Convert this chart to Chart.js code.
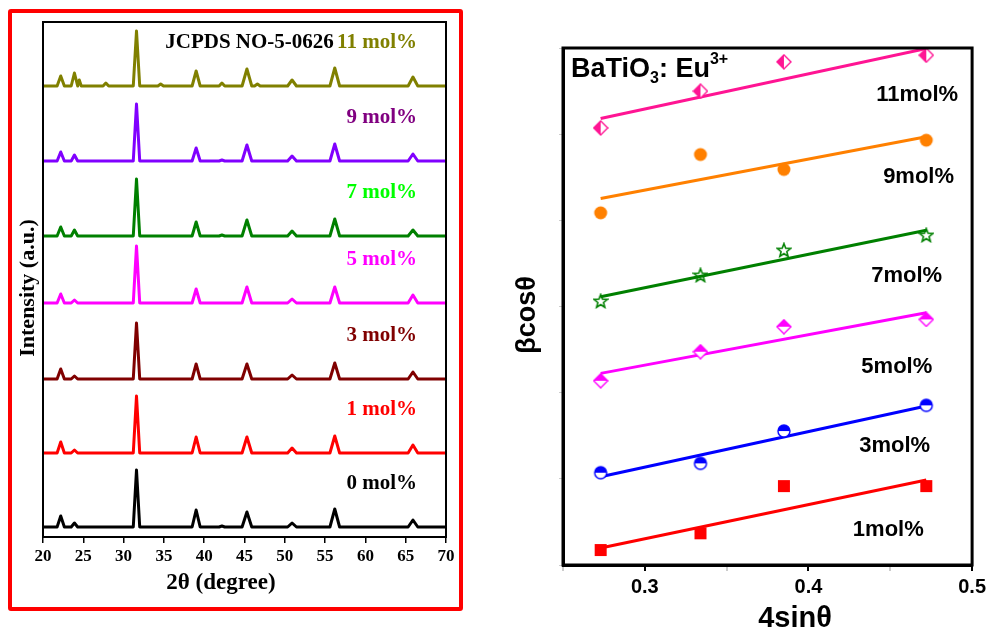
<!DOCTYPE html>
<html>
<head>
<meta charset="utf-8">
<script src="https://cdn.jsdelivr.net/npm/chart.js@4.4.1/dist/chart.umd.min.js"></script>
<style>
    body { margin: 0; background: #fff; }
    #wrap { position: relative; width: 990px; height: 634px; overflow: hidden; }
    #xrd { position: absolute; left: 0; top: 0; }
    #wh { position: absolute; left: 480px; top: 0; }
    #redbox { position: absolute; left: 8px; top: 9px; width: 447px; height: 594px;
              border: 4px solid #ff0000; border-radius: 3px; pointer-events: none; }
</style>
</head>
<body>
<div id="wrap">
    <canvas id="xrd" width="470" height="634"></canvas>
    <canvas id="wh" width="510" height="634"></canvas>
    <div id="redbox"></div>
</div>
<script>
// ---- XRD patterns (left panel) ----
const sampleNames = ['0 mol%', '1 mol%', '3 mol%', '5 mol%', '7 mol%', '9 mol%', '11 mol%'];
const stackOffsets = [10, 84, 158, 234, 301, 376, 451];   // vertical stacking, a.u.
const peakPos   = [22.2, 23.9, 24.5, 27.8, 31.6, 34.6, 39.0, 42.2, 45.3, 46.6, 50.9, 56.2, 65.9];
const peakHalfW = [0.45, 0.4, 0.25, 0.35, 0.4, 0.35, 0.5, 0.35, 0.6, 0.35, 0.55, 0.6, 0.6];
const h0  = [11, 4, 0, 0, 57, 0, 17, 1, 15, 0, 4, 18, 7];
const h1  = [11, 3, 0, 0, 57, 0, 16, 0, 16, 0, 5, 17, 8];
const h3  = [10, 3, 0, 0, 56, 0, 15, 0, 15, 0, 4, 16, 7];
const h5  = [9, 3, 0, 0, 57, 0, 14, 0, 16, 0, 4, 16, 8];
const h7  = [9, 6, 0, 0, 57, 0, 14, 1, 16, 0, 5, 17, 6];
const h9  = [9, 6, 0, 0, 57, 0, 13, 1, 16, 0, 5, 17, 7];
const h11 = [10, 13, 6, 3, 55, 2, 15, 3, 17, 2, 6, 18, 9];
const peakHeights = [h0, h1, h3, h5, h7, h9, h11];
const xrdLineColors  = ['#000000', '#ff0000', '#800000', '#ff00ff', '#008000', '#8000ff', '#808000'];
const xrdLabelColors = ['#000000', '#ff0000', '#800000', '#ff00ff', '#00ff00', '#800080', '#808000'];

// ---- Williamson-Hall plot (right panel) ----
const whNames = ['1mol%', '3mol%', '5mol%', '7mol%', '9mol%', '11mol%'];
const sinX = [0.273, 0.334, 0.385, 0.472];
const wh1  = [0.174, 0.368, 0.916, 0.916];
const wh3  = [1.071, 1.180, 1.555, 1.853];
const wh5  = [2.138, 2.475, 2.765, 2.850];
const wh7  = [3.063, 3.364, 3.654, 3.828];
const wh9  = [4.087, 4.764, 4.590, 4.930];
const wh11 = [5.073, 5.499, 5.839, 5.916];
const fitX  = [0.273, 0.472];
const fit1  = [0.197, 0.986];
const fit3  = [1.025, 1.845];
const fit5  = [2.224, 2.927];
const fit7  = [3.113, 3.886];
const fit9  = [4.254, 4.969];
const fit11 = [5.182, 5.994];
const whValues = [wh1, wh3, wh5, wh7, wh9, wh11];
const whFits = [fit1, fit3, fit5, fit7, fit9, fit11];
const whColors = ['#ff0000', '#0000ff', '#ff00ff', '#008000', '#ff8000', '#ff1493'];
const whMarkers = ['square', 'halfCircleTop', 'diamondTop', 'star', 'circle', 'diamondLeft'];

// baseline -> peak -> baseline for every reflection in the pattern
function buildPattern(idx) {
    var off = stackOffsets[idx], hs = peakHeights[idx];
    var pts = [{ x: 20, y: off }];
    for (var i = 0; i < peakPos.length; i++) {
        if (!hs[i]) continue;
        pts.push({ x: peakPos[i] - peakHalfW[i], y: off });
        pts.push({ x: peakPos[i], y: off + hs[i] });
        pts.push({ x: peakPos[i] + peakHalfW[i], y: off });
    }
    pts.push({ x: 70, y: off });
    return pts;
}

const framePlugin = {
    id: 'frame',
    afterDraw: function (chart, args, opts) {
        var a = chart.chartArea, c = chart.ctx;
        c.save();
        c.strokeStyle = '#000';
        c.lineWidth = opts.width || 2;
        c.strokeRect(a.left, a.top, a.right - a.left, a.bottom - a.top);
        c.restore();
    }
};

const xrdText = {
    id: 'xrdText',
    afterDraw: function (chart) {
        var c = chart.ctx, xs = chart.scales.x, ys = chart.scales.y;
        c.save();
        c.textBaseline = 'middle';
        c.textAlign = 'right';
        c.font = 'bold 21px "Liberation Serif"';
        var xr = xs.getPixelForValue(66.4);
        for (var i = 0; i < sampleNames.length; i++) {
            var y = ys.getPixelForValue(stackOffsets[i] + 43);
            c.fillStyle = xrdLabelColors[i];
            c.fillText(sampleNames[i], xr, y);
            if (i === sampleNames.length - 1) {
                var w = c.measureText(sampleNames[i] + ' ').width;
                c.fillStyle = '#000';
                c.fillText('JCPDS NO-5-0626', xr - w + 2, y);
            }
        }
        // axis titles
        c.fillStyle = '#000';
        c.textAlign = 'center';
        c.font = 'bold 23px "Liberation Serif"';
        c.fillText('2\u03b8 (degree)', 221, 583);
        c.translate(28, 288);
        c.rotate(-Math.PI / 2);
        c.font = 'bold 22px "Liberation Serif"';
        c.fillText('Intensity (a.u.)', 0, 0);
        c.restore();
    }
};

new Chart(document.getElementById('xrd'), {
    type: 'line',
    data: {
        datasets: sampleNames.map(function (n, i) {
            return {
                label: n,
                data: buildPattern(i),
                borderColor: xrdLineColors[i],
                borderWidth: 3,
                pointRadius: 0,
                tension: 0,
                borderJoinStyle: 'round'
            };
        })
    },
    options: {
        responsive: false,
        animation: false,
        layout: { padding: { top: 22, right: 24, left: 0, bottom: 0 } },
        plugins: { legend: { display: false }, tooltip: { enabled: false }, frame: { width: 2 } },
        scales: {
            x: {
                type: 'linear', min: 20, max: 70,
                afterFit: function (s) { s.height = 97; },
                grid: { drawOnChartArea: false, color: '#000', tickLength: 6, lineWidth: 1.5 },
                border: { color: '#000', width: 2 },
                ticks: { stepSize: 5, color: '#000', padding: 3, maxRotation: 0,
                         font: { family: 'Liberation Serif', weight: 'bold', size: 17 } }
            },
            y: {
                type: 'linear', min: 0, max: 515,
                afterFit: function (s) { s.width = 43; },
                grid: { display: false },
                border: { color: '#000', width: 2 },
                ticks: { display: false }
            }
        }
    },
    plugins: [framePlugin, xrdText]
});

// ---- marker images for the W-H plot ----
function makeMarker(kind, color) {
    var size = 16, m = size / 2, r = 6.5;
    var cv = document.createElement('canvas');
    cv.width = size; cv.height = size;
    var g = cv.getContext('2d');
    g.fillStyle = color; g.strokeStyle = color; g.lineWidth = 1.4;
    if (kind === 'square') {
        g.fillRect(m - 6, m - 6, 12, 12);
    } else if (kind === 'circle') {
        g.beginPath(); g.arc(m, m, r, 0, Math.PI * 2); g.fill();
    } else if (kind === 'halfCircleTop') {
        g.fillStyle = '#fff';
        g.beginPath(); g.arc(m, m, r - 0.5, 0, Math.PI * 2); g.fill(); g.stroke();
        g.fillStyle = color;
        g.beginPath(); g.arc(m, m, r - 0.5, Math.PI, Math.PI * 2); g.closePath(); g.fill();
    } else if (kind === 'diamondTop' || kind === 'diamondLeft') {
        var d = 7;
        g.fillStyle = '#fff';
        g.beginPath(); g.moveTo(m, m - d); g.lineTo(m + d, m); g.lineTo(m, m + d); g.lineTo(m - d, m); g.closePath();
        g.fill(); g.stroke();
        g.fillStyle = color;
        g.beginPath();
        if (kind === 'diamondTop') { g.moveTo(m - d, m); g.lineTo(m, m - d); g.lineTo(m + d, m); }
        else { g.moveTo(m, m - d); g.lineTo(m - d, m); g.lineTo(m, m + d); }
        g.closePath(); g.fill();
    } else if (kind === 'star') {
        g.beginPath();
        for (var k = 0; k < 10; k++) {
            var rad = k % 2 === 0 ? 7 : 3;
            var ang = -Math.PI / 2 + k * Math.PI / 5;
            var px = m + rad * Math.cos(ang), py = m + 0.5 + rad * Math.sin(ang);
            if (k === 0) g.moveTo(px, py); else g.lineTo(px, py);
        }
        g.closePath(); g.lineWidth = 1.6; g.stroke();
    }
    return cv;
}

const whLabelPos = [[0.4488, 0.41], [0.4527, 1.38], [0.454, 2.30], [0.460, 3.36], [0.4673, 4.50], [0.4664, 5.45]];

const whText = {
    id: 'whText',
    afterDraw: function (chart) {
        var c = chart.ctx, xs = chart.scales.x, ys = chart.scales.y;
        c.save();
        c.fillStyle = '#000';
        c.textBaseline = 'middle';
        c.textAlign = 'center';
        c.font = 'bold 22px "Liberation Sans"';
        for (var i = 0; i < whNames.length; i++) {
            c.fillText(whNames[i], xs.getPixelForValue(whLabelPos[i][0]), ys.getPixelForValue(whLabelPos[i][1]));
        }
        // BaTiO3: Eu3+
        c.textAlign = 'left';
        c.textBaseline = 'alphabetic';
        var x = 91, y = 77;
        c.font = 'bold 27px "Liberation Sans"';
        c.fillText('BaTiO', x, y); x += c.measureText('BaTiO').width;
        c.font = 'bold 16px "Liberation Sans"';
        c.fillText('3', x, y + 6); x += c.measureText('3').width;
        c.font = 'bold 27px "Liberation Sans"';
        c.fillText(': Eu', x, y); x += c.measureText(': Eu').width;
        c.font = 'bold 16px "Liberation Sans"';
        c.fillText('3+', x, y - 13);
        // axis titles
        c.textAlign = 'center';
        c.textBaseline = 'middle';
        c.font = 'bold 29px "Liberation Sans"';
        c.fillText('4sin\u03b8', 315, 619);
        c.translate(48, 315);
        c.rotate(-Math.PI / 2);
        c.font = 'bold 27px "Liberation Sans"';
        c.fillText('\u03b2cos\u03b8', 0, 0);
        c.restore();
    }
};

var whDatasets = [];
for (var i = 0; i < whNames.length; i++) {
    whDatasets.push({
        label: whNames[i],
        data: sinX.map(function (x, k) { return { x: x, y: whValues[i][k] }; }),
        pointStyle: makeMarker(whMarkers[i], whColors[i]),
        pointRadius: 7,
        showLine: false,
        order: 0
    });
    whDatasets.push({
        label: whNames[i] + ' fit',
        data: fitX.map(function (x, k) { return { x: x, y: whFits[i][k] }; }),
        borderColor: whColors[i],
        borderWidth: 3,
        pointRadius: 0,
        showLine: true,
        order: 1
    });
}

new Chart(document.getElementById('wh'), {
    type: 'scatter',
    data: { datasets: whDatasets },
    options: {
        responsive: false,
        animation: false,
        layout: { padding: { top: 48, right: 15, left: 0, bottom: 0 } },
        plugins: { legend: { display: false }, tooltip: { enabled: false }, frame: { width: 3 } },
        scales: {
            x: {
                type: 'linear', min: 0.25, max: 0.5,
                afterFit: function (s) { s.height = 69; },
                afterBuildTicks: function (s) {
                    s.ticks = [0.25, 0.3, 0.35, 0.4, 0.45, 0.5].map(function (v) { return { value: v }; });
                },
                grid: {
                    drawOnChartArea: false, tickLength: 6, lineWidth: 2,
                    tickColor: function (ctx) {
                        var v = ctx.tick ? ctx.tick.value : 0;
                        return Math.abs(v * 10 - Math.round(v * 10)) < 1e-6 ? '#000' : 'rgba(0,0,0,0.2)';
                    }
                },
                border: { color: '#000', width: 3 },
                ticks: {
                    color: '#000', padding: 4, maxRotation: 0, autoSkip: false,
                    font: { family: 'Liberation Sans', weight: 'bold', size: 20 },
                    callback: function (v) {
                        return Math.abs(v * 10 - Math.round(v * 10)) < 1e-6 && v > 0.26 ? v.toFixed(1) : '';
                    }
                }
            },
            y: {
                type: 'linear', min: 0, max: 6,
                afterFit: function (s) { s.width = 83; },
                grid: { drawOnChartArea: false, tickLength: 4, tickColor: 'rgba(0,0,0,0.2)', lineWidth: 1 },
                border: { color: '#000', width: 3 },
                ticks: { stepSize: 1, callback: function () { return ''; } }
            }
        }
    },
    plugins: [framePlugin, whText]
});
</script>
</body>
</html>
